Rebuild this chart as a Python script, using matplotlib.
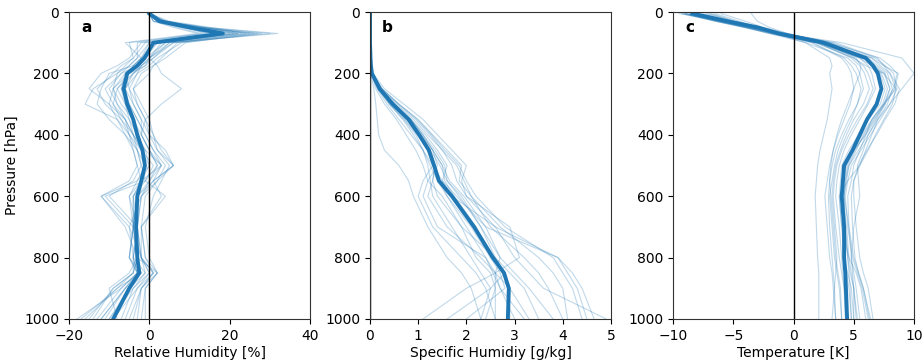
import matplotlib
matplotlib.use("Agg")
import matplotlib.pyplot as plt

P = [5, 30, 50, 70, 100, 150, 175, 200, 250, 300, 350, 400, 450, 500, 550, 600, 700, 800, 850, 900, 1000]

rh_mean = [0, 2.6, 10, 18.3, 1, -1.2, -3, -5.5, -6.4, -5.5, -4, -3, -1.7, -1.1, -2, -3, -3.3, -3.0, -2.5, -5, -9]
rh_members = [
    [0, 3, 14, 32, 5, 0, -2, -4, -8, -6, -5, -3, -1, 0, -2, -3, -4, -3, -2, -6, -12],
    [0, 2, 10, 22, -2, -5, -8, -12, -15, -10, -6, -4, -2, -1, -3, -12, -5, -4, -3, -7, -18],
    [0, 4, 12, 28, 8, 2, 0, -3, -6, -4, -2, 0, 4, 6, 1, -2, -3, -2, 0, -3, -6],
    [0, 1, 8, 16, 0, -3, -5, -7, -10, -8, -5, -4, -3, -2, -1, -4, -4, -5, -2, -8, -16],
    [0, 3, 11, 20, 3, 0, 2, 3, 8, 3, -1, -2, 0, 2, -1, 4, -2, -2, 1, -2, -4],
    [0, 2, 9, 14, -5, -4, -6, -8, -14, -16, -8, -6, -3, -2, -4, -10, -3, -4, -4, -9, -14],
    [0, 5, 15, 24, 6, 1, -1, -5, -8, -9, -7, -4, -1, 3, -2, -3, -4, -3, 2, -1, -2],
    [0, 2, 10, 19, 2, -1, -3, -6, -7, -5, -3, -1, 1, 4, 2, -2, -5, -2, -1, -4, -10],
    [0, 1, 6, 12, -6, -2, -4, -10, -12, -13, -10, -6, -4, -3, -5, -12, -6, -3, -5, -10, -8],
    [0, 3, 12, 27, 9, 4, 1, -2, -4, -2, 0, 1, 3, 6, 2, -1, -2, -1, 2, -2, -3],
    [0, 2, 9, 17, 1, -2, -4, -5, -9, -7, -4, -3, -2, 0, -3, -5, -3, -4, -3, -6, -11],
    [0, 4, 13, 23, 4, -1, -3, -6, -5, -4, -2, -2, 0, 2, 0, -3, -4, -2, 0, -4, -7],
    [0, 2, 8, 15, -1, -4, -7, -9, -13, -11, -7, -5, -3, -1, -2, -4, -3, -3, -4, -8, -17],
    [0, 3, 12, 25, 7, 3, 1, 0, -4, -3, -1, 1, 2, 5, 3, 1, -1, 0, 2, -1, -1],
    [0, 2, 10, 21, 2, -2, -3, -7, -11, -9, -6, -4, -2, 1, -1, -11, -4, -5, -3, -7, -13],
    [0, 4, 14, 30, 6, 0, -1, -4, -7, -6, -4, -2, 0, 3, 0, -2, -3, -2, 1, -3, -9],
    [0, 1, 7, 13, -3, -3, -5, -8, -9, -8, -6, -5, -4, -3, -2, -5, -4, -3, -4, -9, -15],
    [0, 3, 11, 26, 5, 1, -2, -4, -6, -5, -3, -1, 1, 3, 1, -3, -3, -4, -1, -5, -10],
    [0, 2, 9, 18, 0, -2, -4, -6, -9, -10, -8, -5, -2, -1, -2, -4, -4, -5, -3, -6, -12],
    [0, 3, 13, 22, 4, 0, -2, -3, -5, -3, -1, 0, 2, 6, 1, 3, -2, -1, 1, -2, -5],
]

q_mean = [0, 0, 0, 0, 0, 0.01, 0.02, 0.04, 0.2, 0.47, 0.8, 1.02, 1.22, 1.33, 1.43, 1.7, 2.16, 2.55, 2.78, 2.88, 2.86]
q_members = [
    [0, 0, 0, 0, 0, 0.01, 0.02, 0.05, 0.25, 0.6, 1.0, 1.3, 1.6, 1.9, 1.85, 2.1, 2.5, 3.2, 3.5, 3.7, 4.0],
    [0, 0, 0, 0, 0, 0.01, 0.02, 0.04, 0.2, 0.45, 0.75, 1.0, 1.2, 1.3, 1.1, 1.0, 1.3, 1.9, 2.2, 2.4, 2.6],
    [0, 0, 0, 0, 0, 0.01, 0.02, 0.03, 0.15, 0.35, 0.6, 0.85, 1.1, 1.3, 1.5, 1.8, 2.4, 3.9, 4.2, 4.4, 4.65],
    [0, 0, 0, 0, 0, 0.0, 0.01, 0.02, 0.08, 0.12, 0.15, 0.18, 0.3, 0.6, 0.8, 0.9, 1.2, 1.6, 1.9, 2.1, 2.3],
    [0, 0, 0, 0, 0, 0.01, 0.03, 0.06, 0.3, 0.7, 1.1, 1.4, 1.7, 2.0, 1.9, 2.0, 2.9, 3.1, 2.6, 2.0, 1.1],
    [0, 0, 0, 0, 0, 0.01, 0.02, 0.04, 0.2, 0.5, 0.85, 1.1, 1.3, 1.4, 1.2, 1.1, 1.4, 2.4, 2.6, 2.7, 3.0],
    [0, 0, 0, 0, 0, 0.01, 0.02, 0.05, 0.22, 0.55, 0.9, 1.2, 1.5, 1.7, 1.8, 2.0, 2.6, 3.0, 3.3, 3.6, 4.9],
    [0, 0, 0, 0, 0, 0.01, 0.02, 0.03, 0.18, 0.4, 0.7, 0.95, 1.1, 1.25, 1.4, 1.6, 2.1, 2.5, 2.7, 2.8, 2.0],
    [0, 0, 0, 0, 0, 0.01, 0.02, 0.04, 0.2, 0.5, 0.8, 1.05, 1.25, 1.45, 1.6, 1.9, 2.3, 2.6, 2.9, 3.2, 3.5],
    [0, 0, 0, 0, 0, 0.01, 0.02, 0.05, 0.23, 0.5, 0.85, 1.15, 1.4, 1.6, 1.5, 1.7, 2.6, 3.9, 4.1, 4.3, 4.5],
    [0, 0, 0, 0, 0, 0.0, 0.01, 0.03, 0.12, 0.3, 0.55, 0.75, 0.95, 1.1, 1.2, 1.5, 1.9, 2.2, 2.5, 2.6, 2.4],
    [0, 0, 0, 0, 0, 0.01, 0.02, 0.04, 0.2, 0.48, 0.8, 1.05, 1.3, 1.5, 1.65, 1.95, 2.4, 2.7, 2.6, 2.6, 2.6],
    [0, 0, 0, 0, 0, 0.01, 0.02, 0.04, 0.22, 0.52, 0.85, 1.1, 1.35, 1.55, 1.6, 1.85, 2.3, 2.7, 3.0, 3.3, 3.8],
    [0, 0, 0, 0, 0, 0.01, 0.02, 0.03, 0.16, 0.4, 0.68, 0.9, 1.1, 1.2, 1.25, 1.3, 1.7, 2.1, 2.3, 2.5, 2.3],
    [0, 0, 0, 0, 0, 0.01, 0.02, 0.05, 0.24, 0.58, 0.95, 1.25, 1.5, 1.8, 1.95, 2.1, 2.7, 3.5, 3.8, 4.0, 4.1],
    [0, 0, 0, 0, 0, 0.01, 0.02, 0.04, 0.19, 0.45, 0.78, 1.0, 1.2, 1.35, 1.3, 1.4, 1.9, 2.6, 2.8, 2.9, 2.9],
    [0, 0, 0, 0, 0, 0.01, 0.02, 0.04, 0.21, 0.5, 0.82, 1.08, 1.3, 1.5, 1.55, 1.75, 2.2, 2.5, 2.8, 2.5, 1.6],
    [0, 0, 0, 0, 0, 0.01, 0.02, 0.03, 0.17, 0.42, 0.72, 0.98, 1.2, 1.35, 1.45, 1.6, 2.0, 2.4, 2.55, 2.7, 3.2],
    [0, 0, 0, 0, 0, 0.01, 0.02, 0.05, 0.25, 0.6, 0.98, 1.28, 1.55, 1.85, 2.0, 2.2, 2.8, 3.8, 4.0, 4.2, 4.4],
    [0, 0, 0, 0, 0, 0.01, 0.02, 0.04, 0.2, 0.47, 0.8, 1.05, 1.25, 1.35, 1.3, 1.2, 1.6, 2.3, 2.6, 2.9, 3.3],
]

t_mean = [-8.4, -5.5, -3, -1.2, 2.5, 6.0, 6.6, 7.0, 7.3, 6.9, 6.1, 5.5, 4.9, 4.2, 4.1, 4.0, 4.2, 4.2, 4.3, 4.35, 4.45]
t_members = [
    [-9.5, -6, -4, -2, 2, 5, 6, 7.5, 8.5, 7.5, 6.5, 6, 5.5, 5, 4.8, 4.5, 4.6, 4.8, 5, 5.2, 5.5],
    [-7, -5, -3, -1, 4, 9, 9.5, 10, 9, 8, 7, 6.5, 6, 5.5, 5, 5, 5.2, 5.5, 5.8, 6.2, 6.6],
    [-8, -5.5, -3.5, -1.5, 1, 3, 3.2, 3.0, 3.2, 3.0, 2.8, 2.5, 2.2, 2.0, 1.9, 1.8, 1.9, 2.0, 2.1, 2.1, 2.1],
    [-6, -4, -2.5, -0.5, 3, 6, 6.5, 7.5, 8, 7.5, 6.8, 6, 5, 4.3, 4.1, 4, 4.3, 4.5, 4.7, 5, 5.3],
    [-9, -6.5, -4, -2, 1, 4.5, 5.2, 5.5, 5.8, 5.3, 4.6, 4, 3.5, 3.2, 3.0, 2.9, 3.0, 3.2, 3.3, 3.4, 3.5],
    [-3.5, -3, -2, -0.5, 2.5, 6.5, 7.5, 8.7, 8.4, 7.6, 6.9, 6.2, 5.8, 5.3, 5.4, 5.5, 5.0, 4.8, 4.9, 5.0, 5.0],
    [-8.5, -6, -3.5, -1.2, 2, 5.5, 6.2, 6.5, 6.8, 6.2, 5.5, 4.8, 4.2, 3.8, 3.6, 3.5, 3.8, 4.0, 4.1, 4.2, 4.3],
    [-9.2, -6.5, -4.2, -1.8, 1.5, 4.0, 4.5, 4.8, 5.0, 4.7, 4.2, 3.7, 3.3, 3.1, 3.0, 3.1, 3.3, 3.5, 3.7, 3.9, 4.0],
    [-6.5, -4.5, -3, -1, 3.5, 7, 7.5, 8, 8.5, 8.2, 7.5, 6.8, 6.2, 5.5, 4.5, 3.8, 4.0, 4.6, 5.2, 5.6, 6.0],
    [-8, -5.5, -3.2, -1, 2, 5.5, 6.5, 7.2, 7.6, 7.2, 6.2, 5.4, 4.6, 4.0, 3.9, 3.8, 4.0, 4.2, 4.5, 4.8, 5.0],
    [-9, -6.2, -3.8, -1.5, 2, 4.8, 5.5, 5.9, 6.3, 5.8, 5.0, 4.4, 3.9, 3.5, 3.3, 3.2, 3.4, 3.6, 3.5, 3.4, 3.2],
    [-7.5, -5.2, -3.2, -1, 2.8, 6.5, 7.2, 8, 8.8, 8.4, 7.6, 6.9, 6.1, 5.4, 5.0, 4.8, 4.9, 5.1, 5.4, 5.8, 6.3],
    [-8.8, -6, -3.6, -1.3, 2.2, 5.8, 6.7, 7.3, 7.8, 7.4, 6.5, 5.7, 5.0, 4.4, 4.2, 4.1, 4.4, 4.6, 4.8, 5.0, 5.2],
    [-7.2, -5, -3, -0.8, 3, 7.2, 8, 8.6, 8.3, 7.5, 6.6, 5.8, 5.2, 4.6, 4.4, 4.2, 4.1, 4.2, 4.4, 4.6, 4.8],
    [-9.3, -6.4, -4, -1.7, 1.6, 4.2, 4.8, 5.2, 5.6, 5.3, 4.8, 4.2, 3.7, 3.4, 3.2, 3.0, 3.2, 3.4, 3.6, 3.8, 4.0],
    [-6.8, -4.8, -3, -0.8, 3.2, 6.8, 7.6, 8.3, 8.6, 8.0, 7.2, 6.4, 5.6, 4.8, 4.5, 4.3, 4.5, 4.9, 5.3, 5.7, 6.2],
    [-8.2, -5.8, -3.4, -1.1, 2.3, 5.9, 6.8, 7.6, 8.0, 7.6, 6.7, 5.9, 5.1, 4.5, 4.3, 4.2, 4.6, 5.0, 5.4, 5.8, 6.4],
    [-9, -6.3, -3.9, -1.6, 1.8, 5.0, 5.8, 6.2, 6.6, 6.1, 5.3, 4.6, 4.0, 3.6, 3.4, 3.3, 3.5, 3.8, 4.0, 4.2, 4.4],
    [-7.8, -5.4, -3.3, -1.1, 2.4, 5.2, 5.6, 5.5, 5.0, 4.5, 4.0, 3.6, 3.3, 3.0, 2.8, 2.6, 2.8, 3.0, 3.2, 3.3, 3.5],
    [-8.6, -6, -3.6, -1.3, 2.1, 6.2, 7, 7.8, 8.2, 7.8, 7.0, 6.2, 5.4, 4.6, 4.3, 4.2, 4.3, 4.5, 4.6, 4.7, 4.8],
]

panels = [
    ("a", rh_members, rh_mean, (-20, 40), [-20, 0, 20, 40], "Relative Humidity [%]"),
    ("b", q_members, q_mean, (0, 5), [0, 1, 2, 3, 4, 5], "Specific Humidiy [g/kg]"),
    ("c", t_members, t_mean, (-10, 10), [-10, -5, 0, 5, 10], "Temperature [K]"),
]

fig = plt.figure(figsize=(9.24, 3.61), dpi=100)
lefts = [69 / 924, 370 / 924, 673 / 924]
w = 241 / 924
bottom = 1 - 319 / 361
h = 307 / 361
blue = "#1f77b4"

for left, (lab, members, mean, xlim, xt, xlabel) in zip(lefts, panels):
    ax = fig.add_axes([left, bottom, w, h])
    for m in members:
        ax.plot(m, P, color=blue, lw=0.8, alpha=0.28)
    ax.plot(mean, P, color=blue, lw=2.8)
    ax.axvline(0, color="black", lw=1.0)
    ax.set_xlim(*xlim)
    ax.set_xticks(xt)
    ax.set_ylim(1000, 0)
    ax.set_yticks([0, 200, 400, 600, 800, 1000])
    ax.set_xlabel(xlabel, labelpad=2)
    for s in ax.spines.values():
        s.set_color("#333333")
    ax.text(0.05, 0.95, lab, transform=ax.transAxes, fontweight="bold",
            fontsize=11, va="center", ha="left")
    if lab == "a":
        ax.set_ylabel("Pressure [hPa]")

fig.savefig("out.png", dpi=100)
